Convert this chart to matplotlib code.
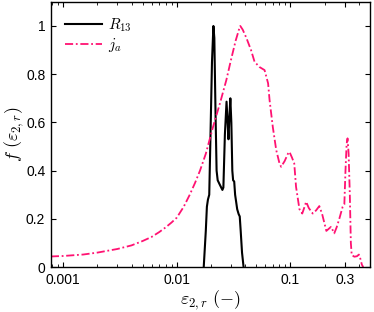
import matplotlib
matplotlib.use("Agg")
import matplotlib.pyplot as plt
from matplotlib.ticker import FixedLocator, FixedFormatter, LogLocator, NullFormatter

plt.rcParams['font.family'] = ['Liberation Sans', 'DejaVu Sans']
plt.rcParams['mathtext.fontset'] = 'cm'

# R13 curve (black)
r13_x = [0.01726, 0.0180, 0.0184, 0.0188, 0.0193, 0.0198, 0.0204, 0.0210, 0.0214,
         0.0219, 0.0224, 0.0229, 0.0240, 0.0252, 0.0257, 0.0265, 0.0274, 0.0280,
         0.0285, 0.0290, 0.0296, 0.0302, 0.0308, 0.0313, 0.0320, 0.0326, 0.0333,
         0.0340, 0.0350, 0.0358, 0.0365, 0.0375, 0.0387]
r13_y = [0.0, 0.15, 0.25, 0.28, 0.30, 0.55, 0.85, 1.0, 0.95,
         0.65, 0.40, 0.36, 0.34, 0.32, 0.33, 0.55, 0.686, 0.60,
         0.53, 0.62, 0.70, 0.60, 0.40, 0.36, 0.355, 0.30, 0.27,
         0.24, 0.22, 0.21, 0.15, 0.06, 0.0]

# j_a curve (pink, dash-dot)
ja_x = [0.00078, 0.001, 0.0015, 0.002, 0.003, 0.004, 0.005, 0.006, 0.007, 0.008,
        0.009, 0.010, 0.0115, 0.013, 0.0145, 0.016, 0.018, 0.0208, 0.024, 0.0273,
        0.030, 0.033, 0.0355, 0.0362, 0.038, 0.041, 0.045, 0.0483, 0.0533, 0.0592,
        0.0636, 0.0655, 0.070, 0.075, 0.0801, 0.0828, 0.089, 0.095, 0.098, 0.103,
        0.108, 0.112, 0.120, 0.127, 0.132, 0.1375, 0.145, 0.157, 0.168, 0.1795,
        0.190, 0.207, 0.2276, 0.243, 0.255, 0.269, 0.288, 0.298, 0.305, 0.312,
        0.318, 0.325, 0.333, 0.340, 0.346, 0.365, 0.385, 0.400, 0.412, 0.425, 0.437]
ja_y = [0.044, 0.046, 0.052, 0.060, 0.075, 0.090, 0.108, 0.125, 0.145, 0.165,
        0.185, 0.205, 0.25, 0.30, 0.35, 0.40, 0.47, 0.58, 0.68, 0.776,
        0.86, 0.94, 0.99, 1.0, 0.985, 0.95, 0.90, 0.852, 0.83, 0.817,
        0.762, 0.693, 0.58, 0.485, 0.43, 0.416, 0.44, 0.47, 0.478, 0.455,
        0.43, 0.333, 0.24, 0.222, 0.245, 0.271, 0.245, 0.222, 0.235, 0.253,
        0.22, 0.15, 0.167, 0.14, 0.165, 0.20, 0.25, 0.26, 0.40, 0.51,
        0.534, 0.47, 0.30, 0.10, 0.05, 0.043, 0.045, 0.052, 0.035, 0.01, 0.0]

xticks = [0.001, 0.01, 0.1, 0.3]
xticklabels = ['0.001', '0.01', '0.1', '0.3']
yticks = [0, 0.2, 0.4, 0.6, 0.8, 1.0]
yticklabels = ['0', '0.2', '0.4', '0.6', '0.8', '1']

fig = plt.figure(figsize=(3.74, 3.12), dpi=100)
ax = fig.add_axes([0.136, 0.144, 0.853, 0.850])

ax.plot(r13_x, r13_y, '-', color='black', lw=1.5, label=r'$R_{13}$')
ax.plot(ja_x, ja_y, color='#ff1272', lw=1.3, dashes=(4.5, 1.5, 1, 1.5), label=r'$j_a$')

ax.set_xscale('log')
ax.set_xlim(0.00078, 0.5)
ax.set_ylim(0, 1.1)

ax.xaxis.set_major_locator(FixedLocator(xticks))
ax.xaxis.set_major_formatter(FixedFormatter(xticklabels))
ax.xaxis.set_minor_locator(LogLocator(base=10, subs=range(2, 10)))
ax.xaxis.set_minor_formatter(NullFormatter())
ax.set_yticks(yticks)
ax.set_yticklabels(yticklabels)

ax.tick_params(which='both', direction='in', top=True, right=True, labelsize=10)
ax.tick_params(which='major', length=3.5, width=0.8, pad=4)
ax.tick_params(which='minor', length=2, width=0.6)
for s in ax.spines.values():
    s.set_linewidth(1.0)

ax.set_xlabel(r'$\varepsilon_{2,r}\ (-)$', fontsize=13, labelpad=1)
ax.set_ylabel(r'$f\ (\varepsilon_{2,r})$', fontsize=13, labelpad=0)

ax.legend(loc='upper left', frameon=False, fontsize=11, handlelength=2.4,
          handletextpad=0.4, labelspacing=0.15, borderaxespad=0.55)

fig.savefig('out.png', dpi=100)
